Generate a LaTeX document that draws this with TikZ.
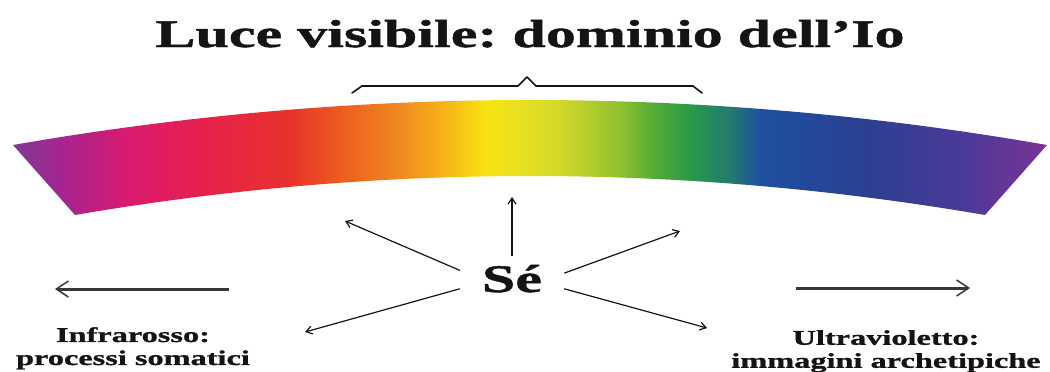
\documentclass[tikz,border=0pt]{standalone}
\usepackage{fontspec}
\usepackage{tikz}
\usetikzlibrary{arrows.meta, positioning}
\newfontfamily\widefont{Liberation Serif}[FakeStretch=1.54, BoldFeatures={FakeBold=1.2}]
\frenchspacing
\definecolor{ink}{RGB}{20, 20, 20}
\definecolor{specviolet}{RGB}{126, 58, 150}
\definecolor{specplum}{RGB}{165, 36, 143}
\definecolor{specmagenta}{RGB}{220, 26, 110}
\definecolor{specrose}{RGB}{230, 32, 79}
\definecolor{specred}{RGB}{232, 50, 42}
\definecolor{specvermil}{RGB}{238, 96, 32}
\definecolor{specorange}{RGB}{240, 138, 32}
\definecolor{specamber}{RGB}{246, 176, 24}
\definecolor{specyellow}{RGB}{248, 226, 16}
\definecolor{speclemon}{RGB}{232, 224, 32}
\definecolor{speclime}{RGB}{208, 216, 42}
\definecolor{specleaf}{RGB}{144, 192, 48}
\definecolor{specgreen}{RGB}{90, 174, 53}
\definecolor{specforest}{RGB}{42, 154, 72}
\definecolor{specteal}{RGB}{35, 122, 112}
\definecolor{specblue}{RGB}{30, 80, 160}
\definecolor{specnavy}{RGB}{44, 63, 144}
\definecolor{specindigo}{RGB}{74, 58, 152}
\definecolor{specpurple}{RGB}{122, 50, 150}
\pgfdeclarehorizontalshading{spectrum}{100bp}{color(0bp)=(specviolet); color(25bp)=(specviolet);
  color(27.3bp)=(specplum); color(30.7bp)=(specmagenta); color(34bp)=(specrose);
  color(38.4bp)=(specred); color(41.1bp)=(specvermil); color(43.7bp)=(specorange);
  color(45.7bp)=(specamber); color(47.8bp)=(specyellow); color(49.5bp)=(speclemon);
  color(51.5bp)=(speclime); color(54.4bp)=(specleaf); color(55.8bp)=(specgreen);
  color(57.7bp)=(specforest); color(59.7bp)=(specteal); color(61.1bp)=(specblue);
  color(66.4bp)=(specnavy); color(70.8bp)=(specindigo); color(75bp)=(specpurple);
  color(100bp)=(specpurple)}
\tikzset{
    font=\widefont\bfseries,
    titletext/.style={font=\widefont\bfseries\fontsize{39}{44}\selectfont, inner sep=0, anchor=base, color=ink},
    selftext/.style={font=\widefont\bfseries\fontsize{39}{44}\selectfont, inner sep=0, anchor=base, color=ink, minimum width=104pt, minimum height=44pt},
    bandlabel/.style={font=\widefont\bfseries\fontsize{21}{23}\selectfont, align=center, inner sep=0, anchor=north, color=ink},
    ray/.style={-{Straight Barb[length=6pt, width=8pt]}, line width=1.2pt, color=ink},
    drift/.style={-{Straight Barb[length=12pt, width=16pt, line width=1.5pt]}, line width=3pt, color=ink!85},
    bracket/.style={line width=1.6pt, color=ink, line join=round, line cap=round}
}

\begin{document}
\begin{tikzpicture}[x=1pt, y=-1pt]

    \useasboundingbox (0,0) rectangle (1050,372);

    % the spectrum band
    \shade [shading=spectrum] (13,145) .. controls (357.7,85) and (702.3,85) .. (1047,145)
        -- (985,215) .. controls (681.7,163) and (378.3,163) .. (75,215) -- cycle;

    \node (title) [titletext] at (530,47) {Luce visibile: dominio dell’Io};
    \draw [bracket] (352,93) -- (362,86) -- (518,86) -- (527,77) -- (536,86) -- (693,86) -- (702,93);

    \node (se) [selftext] at (512,292) {Sé};

    \node (ir) [bandlabel] at (133,327) {Infrarosso:\\processi somatici};
    \node (uv) [bandlabel] at (886,330) {Ultravioletto:\\immagini archetipiche};

    \coordinate (upTip) at (512,197);
    \coordinate (ulTip) at (345,221);
    \coordinate (llTip) at (305,332);
    \coordinate (urTip) at (680,231);
    \coordinate (lrTip) at (707,328);

    \coordinate (irFrom) at (229,289);
    \coordinate (irTo)   at (55,289);
    \coordinate (uvFrom) at (796,288);
    \coordinate (uvTo)   at (970,288);

    \draw [ray] (se.north) -- (upTip);
    \draw [ray] (se.171) -- (ulTip);
    \draw [ray] (se.191) -- (llTip);
    \draw [ray] (se.6) -- (urTip);
    \draw [ray] (se.-11) -- (lrTip);

    \draw [drift] (irFrom) -- (irTo);
    \draw [drift] (uvFrom) -- (uvTo);

\end{tikzpicture}
\end{document}
